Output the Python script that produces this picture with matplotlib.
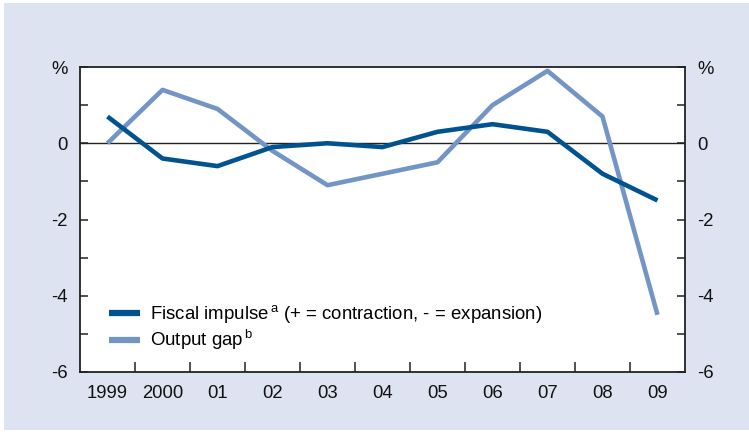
import numpy as np
import matplotlib.pyplot as plt
from matplotlib.patches import Rectangle

plt.rcParams['font.family'] = ['Liberation Sans', 'DejaVu Sans']
plt.rcParams['mathtext.fontset'] = 'custom'
plt.rcParams['mathtext.rm'] = 'Liberation Sans'

# дані
years = ['1999', '2000', '01', '02', '03', '04', '05', '06', '07', '08', '09']
fiscal = [0.7, -0.4, -0.6, -0.1, 0.0, -0.1, 0.3, 0.5, 0.3, -0.8, -1.5]
gap = [0.0, 1.4, 0.9, -0.2, -1.1, -0.8, -0.5, 1.0, 1.9, 0.7, -4.5]
ytick_vals = [-6, -5, -4, -3, -2, -1, 0, 1, 2]
ytick_labels = ['-6', '', '-4', '', '-2', '', '0', '', '%']

dark = '#00538f'
light = '#7295c6'
bg = '#dde3f0'

fig = plt.figure(figsize=(7.49, 4.33), dpi=100)
fig.patch.set_facecolor('white')
fig.patches.append(Rectangle((4 / 749, 3 / 433), 745 / 749, 427 / 433,
                             transform=fig.transFigure, facecolor=bg,
                             edgecolor='none', zorder=-10))

ax = fig.add_axes([80 / 749, 61 / 433, 605 / 749, 305 / 433])
x = np.arange(len(years))

ax.axhline(0, color='#222222', lw=1.0, zorder=1)
ax.plot(x, fiscal, color=dark, lw=3.3, solid_capstyle='butt', zorder=3,
        label=r'Fiscal impulse$\mathregular{^{\,a}}$ (+ = contraction, - = expansion)')
ax.plot(x, gap, color=light, lw=3.3, solid_capstyle='butt', zorder=2,
        label=r'Output gap$\mathregular{^{\,b}}$')

ax.set_xlim(-0.5, len(years) - 0.5)
ax.set_ylim(-6, 2)

# мітки між категоріями, підписи по центру
ax.set_xticks(np.arange(0.5, len(years) - 1, 1))
ax.set_xticklabels([])
ax.set_xticks(x, minor=True)
ax.set_xticklabels(years, minor=True)
ax.tick_params(axis='x', which='major', direction='in', length=7, width=1.1,
               color='#222222')
ax.tick_params(axis='x', which='minor', length=0, labelsize=13.3, pad=9,
               labelcolor='#111111')

ax.set_yticks(ytick_vals)
ax.set_yticklabels(ytick_labels)
ax.tick_params(axis='y', direction='in', length=6, width=1.1, color='#222222',
               left=True, right=True, labelleft=True, labelright=True,
               labelsize=13.3, pad=9, labelcolor='#111111')

for s in ax.spines.values():
    s.set_color('#222222')
    s.set_linewidth(1.3)

leg = ax.legend(loc='lower left', bbox_to_anchor=(0.035, 0.04), frameon=False,
                fontsize=13.4, handlelength=1.7, handletextpad=0.55,
                labelspacing=0.15, borderaxespad=0)
for h in leg.get_lines():
    h.set_linewidth(4.5)

fig.savefig('out.png', dpi=100, facecolor=fig.get_facecolor())
